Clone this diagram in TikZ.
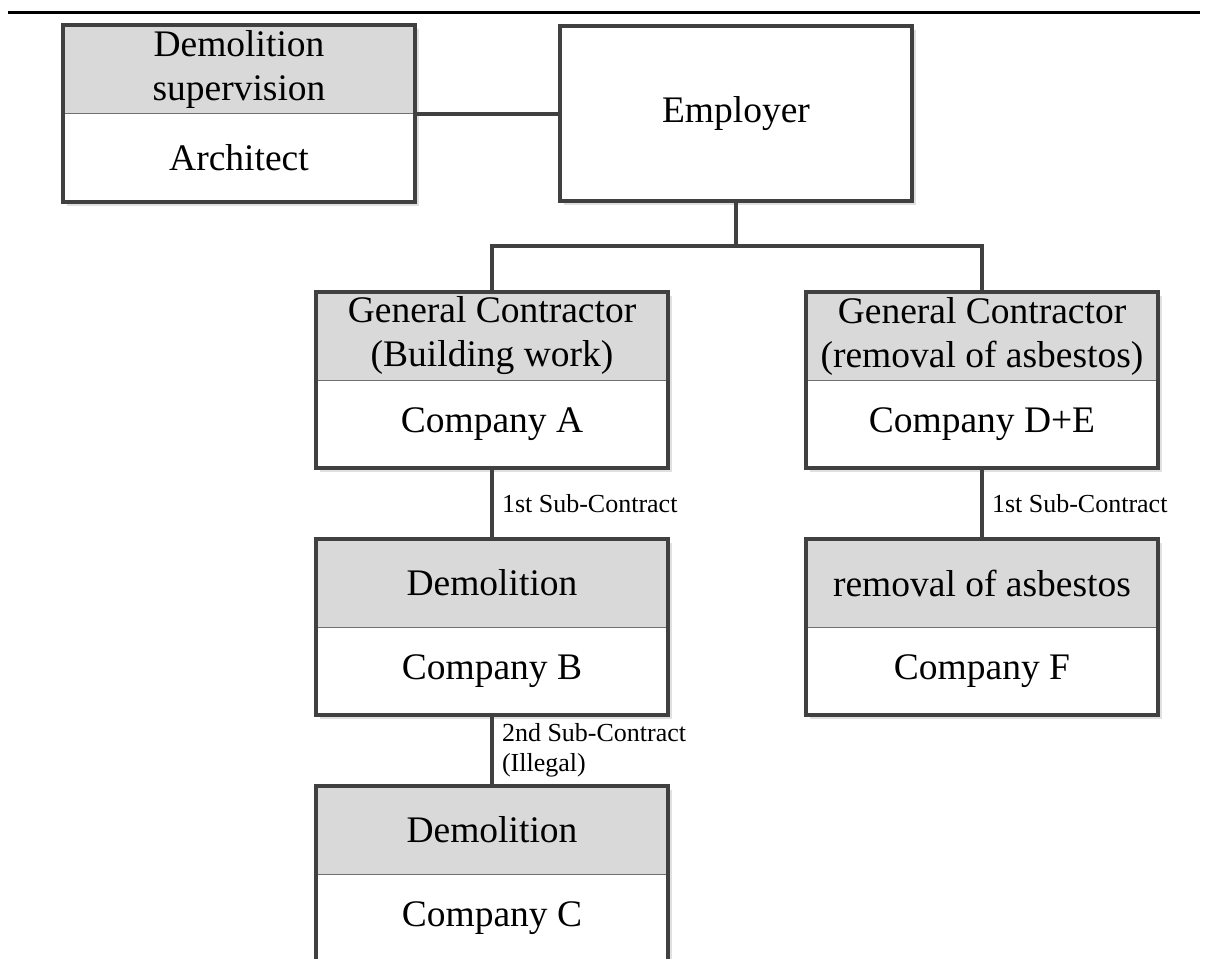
\documentclass[tikz,border=0pt]{standalone}
\usepackage{fontspec}
\setmainfont{Liberation Serif}
\usetikzlibrary{positioning,shapes.multipart,backgrounds}
\definecolor{framegray}{HTML}{404040}
\definecolor{headgray}{HTML}{D9D9D9}
\definecolor{splitgray}{HTML}{707070}
\newcommand{\boxpart}[2]{\parbox[c][#1][c]{352pt}{\centering #2}}

\begin{document}
\begin{tikzpicture}[x=1pt,y=1pt,
    unit/.style={
        rectangle split,
        rectangle split parts=2,
        rectangle split part fill={headgray,white},
        draw=splitgray,
        line width=1pt,
        inner sep=0pt,
        outer sep=0pt,
        font=\fontsize{37.5}{44}\selectfont
      },
    single/.style={
        rectangle,
        draw=framegray,
        fill=white,
        line width=4pt,
        minimum width=352pt,
        minimum height=174pt,
        inner sep=0pt,
        outer sep=0pt,
        font=\fontsize{37.5}{44}\selectfont
      },
    frame/.style={draw=framegray, line width=4pt},
    shade/.style={fill=black!12},
    link/.style={draw=framegray, line width=4pt},
    tag/.style={
        right,
        inner sep=0pt,
        xshift=8pt,
        align=left,
        font=\fontsize{26}{30}\selectfont
      }
  ]
    \useasboundingbox (0,0) rectangle (1206,-958);
    \draw[line width=3pt] (8,-12.5) -- (1200,-12.5);

    \node[unit] at (239,-113.5) (arch) {\boxpart{87pt}{Demolition\\supervision}\nodepart{two}\boxpart{87pt}{Architect}};
    \node[single,right=145pt of arch] (emp) {Employer};

    \node[unit] at (492,-380) (gcA) {\boxpart{87pt}{General Contractor\\(Building work)}\nodepart{two}\boxpart{87pt}{Company A}};
    \node[unit,right=138pt of gcA] (gcDE) {\boxpart{87pt}{General Contractor\\(removal of asbestos)}\nodepart{two}\boxpart{87pt}{Company D+E}};
    \node[unit,below=71pt of gcA] (demB) {\boxpart{87pt}{Demolition}\nodepart{two}\boxpart{87pt}{Company B}};
    \node[unit,below=71pt of gcDE] (asbF) {\boxpart{87pt}{removal of asbestos}\nodepart{two}\boxpart{87pt}{Company F}};
    \node[unit,below=71pt of demB] (demC) {\boxpart{87pt}{Demolition}\nodepart{two}\boxpart{87pt}{Company C}};

    \foreach \n in {arch,gcA,gcDE,demB,asbF,demC}
      \draw[frame] (\n.north west) rectangle (\n.south east);

    % light shadow behind every box
    \begin{scope}[on background layer]
      \foreach \n in {arch,emp,gcA,gcDE,demB,asbF,demC}
        \fill[shade] ([shift={(4,-4)}]\n.north west) rectangle ([shift={(4,-4)}]\n.south east);
    \end{scope}

    \coordinate[below=45pt of emp.south] (fork);
    \draw[link] (arch) -- (emp);
    \draw[link] (emp) -- (fork);
    \draw[link] (gcA.north) |- (fork) -| (gcDE.north);
    \draw[link] (gcA) -- node[tag] {1st Sub-Contract} (demB);
    \draw[link] (gcDE) -- node[tag] {1st Sub-Contract} (asbF);
    \draw[link] (demB) -- node[tag] {2nd Sub-Contract\\(Illegal)} (demC);
\end{tikzpicture}
\end{document}
